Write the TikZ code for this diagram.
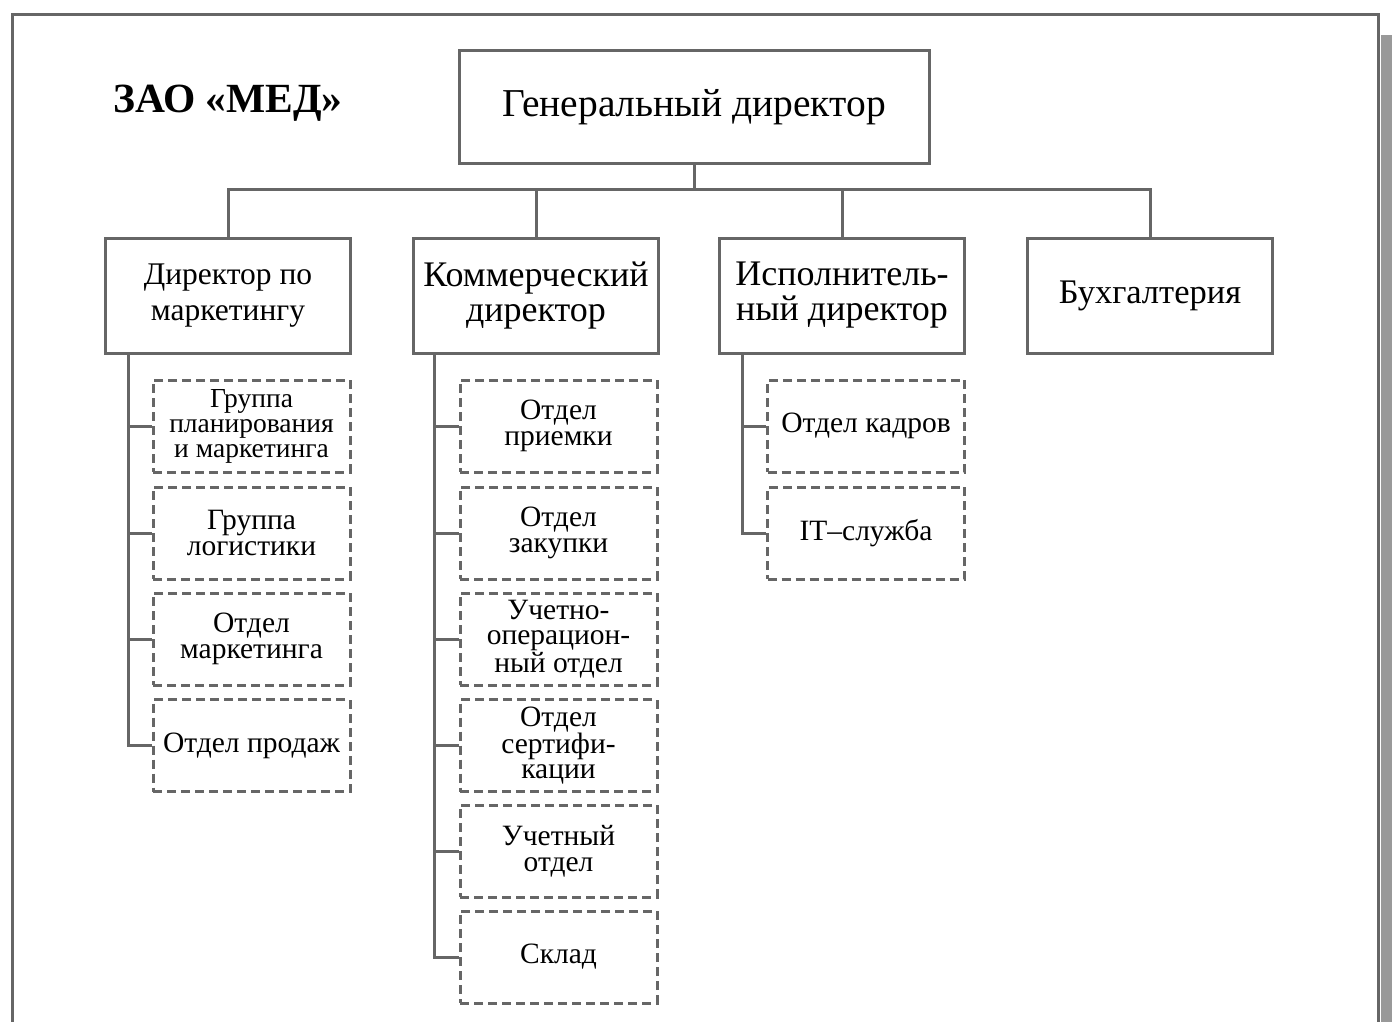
\documentclass[tikz,border=0pt]{standalone}
\usepackage{fontspec}
\setmainfont{Liberation Serif}
\definecolor{ln}{HTML}{666666}
\definecolor{shd}{HTML}{999999}
\begin{document}
\begin{tikzpicture}[x=1pt,y=-1pt,
  line width=3pt, draw=ln,
  topbox/.style={draw=ln, line width=3pt, minimum width=470pt, minimum height=112pt, inner sep=0pt, align=center, font=\fontsize{39.5}{39.5}\selectfont},
  midbox/.style={draw=ln, line width=3pt, minimum width=245pt, minimum height=115pt, inner sep=0pt, align=center, font=\fontsize{36}{35}\selectfont},
  subbox/.style={draw=ln, line width=3pt, dash pattern=on 9pt off 5pt, minimum width=197pt, minimum height=92pt, inner sep=0pt, align=center, font=\fontsize{29.5}{25.5}\selectfont},
  conn/.style={draw=ln, line width=3pt}
]
\useasboundingbox (0,0) rectangle (1392,1022);
% frame and shadow
\fill[shd] (1381,35) rectangle (1392,1022);
\draw[conn] (12,1030) -- (12,15) -- (1378,15) -- (1378,1030);
% title
\node[font=\fontsize{41.5}{41.5}\selectfont\bfseries] (title) at (228,103) {ЗАО «МЕД»};
% top
\node[topbox] (gen) at (694,107) {Генеральный директор};
% level 2
\node[midbox, font=\fontsize{31.5}{36}\selectfont] (d1) at (228,295.5) {Директор по\\маркетингу};
\node[midbox] (d2) at (536,295.5) {Коммерческий\\директор};
\node[midbox] (d3) at (842,295.5) {Исполнитель-\\ный директор};
\node[midbox, font=\fontsize{34.5}{36}\selectfont] (d4) at (1150,295.5) {Бухгалтерия};
% column 1
\node[subbox, font=\fontsize{27.5}{25}\selectfont] (a1) at (251.5,426) {Группа\\планирования\\и маркетинга};
\node[subbox] (a2) at (251.5,533) {Группа\\логистики};
\node[subbox] (a3) at (251.5,639) {Отдел\\маркетинга};
\node[subbox] (a4) at (251.5,745.5) {Отдел продаж};
% column 2
\node[subbox] (b1) at (558.5,426) {Отдел\\приемки};
\node[subbox] (b2) at (558.5,533) {Отдел\\закупки};
\node[subbox] (b3) at (558.5,639) {Учетно-\\операцион-\\ный отдел};
\node[subbox] (b4) at (558.5,745.5) {Отдел\\сертифи-\\кации};
\node[subbox] (b5) at (558.5,851) {Учетный\\отдел};
\node[subbox] (b6) at (558.5,957) {Склад};
% column 3
\node[subbox] (c1) at (866,426) {Отдел кадров};
\node[subbox] (c2) at (866,533) {IT–служба};
% bus
\coordinate (bus) at (694,189);
\draw[conn] (gen.south) -- (bus);
\draw[conn] (d1.north) |- (bus) -| (d4.north);
\draw[conn] (d2.north) -- (d2.north |- bus);
\draw[conn] (d3.north) -- (d3.north |- bus);
% spines
\coordinate (s1) at ([xshift=24pt]d1.south west);
\coordinate (s2) at ([xshift=22pt]d2.south west);
\coordinate (s3) at ([xshift=24pt]d3.south west);
\draw[conn] (s1) |- (a4.west);
\foreach \n in {a1,a2,a3} \draw[conn] (\n.west) -- (\n.west -| s1);
\draw[conn] (s2) |- (b6.west);
\foreach \n in {b1,b2,b3,b4,b5} \draw[conn] (\n.west) -- (\n.west -| s2);
\draw[conn] (s3) |- (c2.west);
\draw[conn] (c1.west) -- (c1.west -| s3);
\end{tikzpicture}
\end{document}
